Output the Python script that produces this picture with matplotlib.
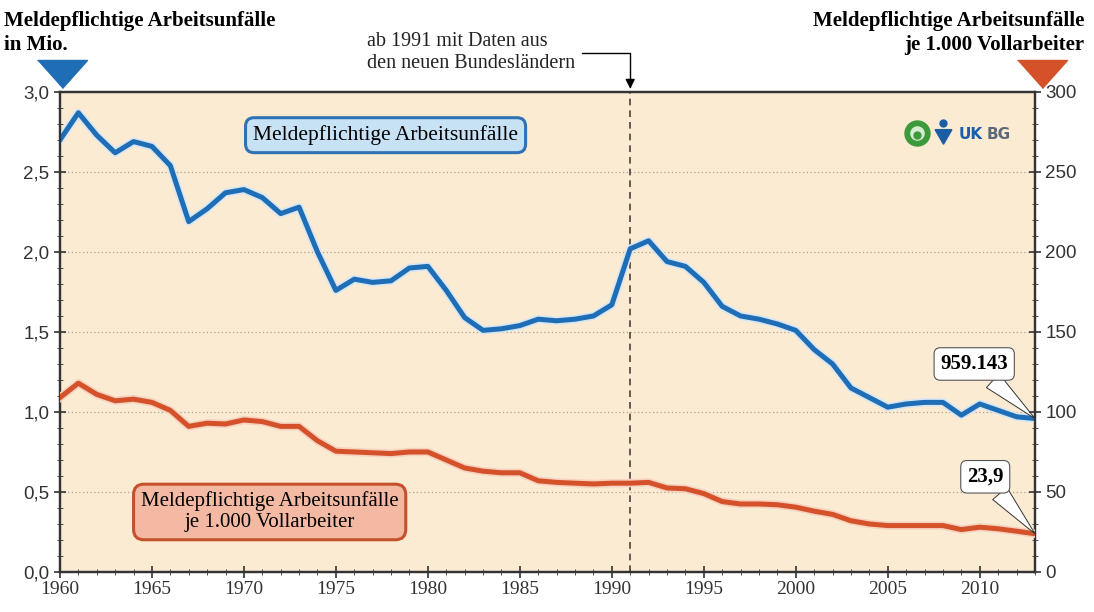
import numpy as np
import matplotlib.pyplot as plt
import matplotlib.patheffects as pe
from matplotlib.ticker import MultipleLocator, FuncFormatter

# Jahre
jahre = list(range(1960, 2014))

# Meldepflichtige Arbeitsunfaelle in Mio.
unfaelle_mio = [2.70, 2.87, 2.73, 2.62, 2.69, 2.66, 2.54, 2.19, 2.27, 2.37,
                2.39, 2.34, 2.24, 2.28, 2.00, 1.76, 1.83, 1.81, 1.82, 1.90,
                1.91, 1.76, 1.59, 1.51, 1.52, 1.54, 1.58, 1.57, 1.58, 1.60,
                1.67, 2.02, 2.07, 1.94, 1.91, 1.81, 1.66, 1.60, 1.58, 1.55,
                1.51, 1.39, 1.30, 1.15, 1.09, 1.03, 1.05, 1.06, 1.06, 0.98,
                1.05, 1.01, 0.97, 0.959143]

# Meldepflichtige Arbeitsunfaelle je 1.000 Vollarbeiter
unfaelle_quote = [109, 118, 111, 107, 108, 106, 101, 91, 93, 92.5,
                  95, 94, 91, 91, 82, 75.5, 75, 74.5, 74, 75,
                  75, 70, 65, 63, 62, 62, 57, 56, 55.5, 55,
                  55.5, 55.5, 56, 52.5, 52, 49, 44, 42.5, 42.5, 42,
                  40.5, 38, 36, 32, 30, 29, 29, 29, 29, 26.5,
                  28, 27, 25.5, 23.9]

blau = '#1f6db5'
rot = '#d4512a'
hintergrund = '#fcebd3'
serif = 'Liberation Serif'

fig = plt.figure(figsize=(10.94, 6.12), dpi=100)
ax = fig.add_axes([0.0548, 0.0654, 0.8912, 0.7843])
ax2 = ax.twinx()
ax.set_facecolor(hintergrund)

ax.set_xlim(1960, 2013)
ax.set_ylim(0, 3.0)
ax2.set_ylim(0, 300)

# Gitter
for y in [0.5, 1.0, 1.5, 2.0, 2.5]:
    ax.axhline(y, color='#b0a090', lw=0.9, ls=(0, (1, 2)), zorder=1)

# Linien
ax.plot(jahre, unfaelle_mio, color=blau, lw=3.6, zorder=4, solid_joinstyle='round',
        path_effects=[pe.Stroke(linewidth=6, foreground='#d6e6f4'), pe.Normal()])
ax2.plot(jahre, unfaelle_quote, color=rot, lw=3.6, zorder=4, solid_joinstyle='round',
         path_effects=[pe.Stroke(linewidth=6, foreground='#f6d2bf'), pe.Normal()])

# 1991 Markierung
ax.axvline(1991, color='#4a4040', lw=1.2, ls=(0, (4, 3)), zorder=2)
ax.annotate('ab 1991 mit Daten aus\nden neuen Bundesländern',
            xy=(1991, 3.02), xytext=(1976.7, 3.245), xycoords='data',
            fontsize=14.5, family=serif, color='#222222', ha='left', va='center',
            linespacing=1.2, annotation_clip=False,
            arrowprops=dict(arrowstyle='-|>', color='black', lw=1.0,
                            connectionstyle='angle,angleA=0,angleB=90,rad=0',
                            shrinkA=3, shrinkB=0, mutation_scale=14))

# Achsen
ax.yaxis.set_major_locator(MultipleLocator(0.5))
ax.yaxis.set_minor_locator(MultipleLocator(0.1))
ax.yaxis.set_major_formatter(FuncFormatter(lambda v, p: f'{v:.1f}'.replace('.', ',')))
ax2.yaxis.set_major_locator(MultipleLocator(50))
ax2.yaxis.set_minor_locator(MultipleLocator(10))
ax.xaxis.set_major_locator(MultipleLocator(5))
ax.xaxis.set_minor_locator(MultipleLocator(1))

ax.tick_params(axis='y', which='major', direction='inout', length=8, width=1.2,
               labelsize=13.5, labelcolor='#333333', colors='#333333')
ax.tick_params(axis='y', which='minor', direction='inout', length=4, colors='#333333')
ax2.tick_params(axis='y', which='major', direction='inout', length=8, width=1.2,
                labelsize=13.5, labelcolor='#333333', colors='#333333')
ax2.tick_params(axis='y', which='minor', direction='inout', length=4, colors='#333333')
ax.tick_params(axis='x', which='major', direction='inout', length=9, width=1.2,
               labelsize=14, colors='#333333', pad=2)
ax.tick_params(axis='x', which='minor', direction='inout', length=5, colors='#333333')
for lab in ax.get_xticklabels():
    lab.set_family(serif)
for lab in ax.get_yticklabels() + ax2.get_yticklabels():
    lab.set_family('Liberation Sans')

for sp in ['left', 'right', 'top', 'bottom']:
    ax.spines[sp].set_color('#333333')
    ax.spines[sp].set_linewidth(1.6)
    ax2.spines[sp].set_color('#333333')
    ax2.spines[sp].set_linewidth(1.6)

# Achsentitel
fig.text(0.004, 0.982, 'Meldepflichtige Arbeitsunfälle\nin Mio.', fontsize=15,
         fontweight='bold', family=serif, ha='left', va='top', linespacing=1.25)
fig.text(0.991, 0.982, 'Meldepflichtige Arbeitsunfälle\nje 1.000 Vollarbeiter', fontsize=15,
         fontweight='bold', family=serif, ha='right', va='top', multialignment='right',
         linespacing=1.25)
dreieck = [(-25, 14), (25, 14), (0, -14)]
ax.plot([0.002], [1.0375], marker=dreieck, ms=36, color=blau, transform=ax.transAxes,
        clip_on=False)
ax.plot([1.007], [1.0375], marker=dreieck, ms=36, color=rot, transform=ax.transAxes,
        clip_on=False)

# Beschriftungen
ax.text(1977.7, 2.73, 'Meldepflichtige Arbeitsunfälle', fontsize=15.5, family=serif,
        ha='center', va='center', zorder=6,
        bbox=dict(boxstyle='round,pad=0.35,rounding_size=0.4', fc='#c7e1f5', ec='#2f73b4', lw=2.2))
ax.text(1971.4, 0.375, 'Meldepflichtige Arbeitsunfälle\nje 1.000 Vollarbeiter', fontsize=15,
        family=serif, ha='center', va='center', zorder=6, linespacing=1.15,
        bbox=dict(boxstyle='round,pad=0.35,rounding_size=0.5', fc='#f3b9a3', ec='#c4512c', lw=2.2))

ax.annotate('959.143', xy=(2013, 0.959), xytext=(2009.7, 1.30), fontsize=15,
            fontweight='bold', family=serif, ha='center', va='center', zorder=7,
            bbox=dict(boxstyle='round,pad=0.3', fc='white', ec='#555555', lw=0.8),
            arrowprops=dict(arrowstyle='wedge,tail_width=0.9', fc='white', ec='#333333',
                            lw=0.7, shrinkA=0, shrinkB=0))
ax2.annotate('23,9', xy=(2013, 23.9), xytext=(2010.3, 59.5), fontsize=15,
             fontweight='bold', family=serif, ha='center', va='center', zorder=7,
             bbox=dict(boxstyle='round,pad=0.3', fc='white', ec='#555555', lw=0.8),
             arrowprops=dict(arrowstyle='wedge,tail_width=0.9', fc='white', ec='#333333',
                             lw=0.7, shrinkA=0, shrinkB=0))

# Logo
ax.plot([0.879], [0.914], marker='o', ms=18, color='#3d9a3c', transform=ax.transAxes)
ax.plot([0.879], [0.914], marker='o', ms=12, color='#d8ecd0', mec='#3d9a3c', mew=1.5,
        transform=ax.transAxes)
ax.plot([0.879], [0.910], marker='o', ms=5, color='#3d9a3c', transform=ax.transAxes)
ax.plot([0.906], [0.912], marker=(3, 0, 180), ms=14, color='#1a5ea8', transform=ax.transAxes)
ax.plot([0.906], [0.935], marker='o', ms=5, color='#1a5ea8', transform=ax.transAxes)
ax.text(0.922, 0.912, 'UK', fontsize=11, fontweight='bold', color='#1a5ea8',
        transform=ax.transAxes, ha='left', va='center', family='DejaVu Sans')
ax.text(0.950, 0.912, 'BG', fontsize=11, fontweight='bold', color='#5a6a7a',
        transform=ax.transAxes, ha='left', va='center', family='DejaVu Sans')

fig.savefig('out.png', dpi=100)
